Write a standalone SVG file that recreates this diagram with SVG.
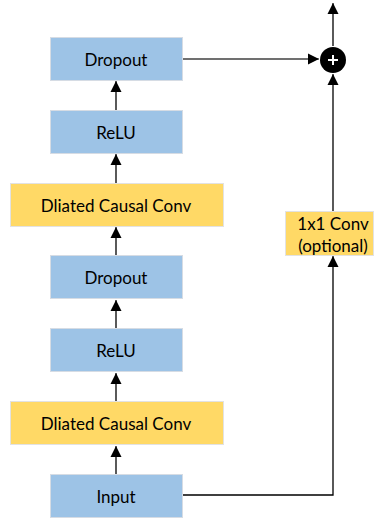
<svg xmlns="http://www.w3.org/2000/svg" width="377" height="519" viewBox="0 0 377 519">
<style>
.b{fill:#9DC3E6;stroke:#D6DCE4;stroke-width:1}
.y{fill:#FFD966;stroke:#E2E2E2;stroke-width:1}
.t{font-family:Lato,"Open Sans",sans-serif;font-size:17px;fill:#000;text-anchor:middle;dominant-baseline:central}
.c{fill:none;stroke:#000;stroke-width:1.3}
</style>
<defs>
<marker id="a" viewBox="0 0 10 12" refX="11" refY="6" markerWidth="10" markerHeight="12" markerUnits="userSpaceOnUse" orient="auto">
<path d="M0,0.5 L11,6 L0,11.5 Z" fill="#000"/>
</marker>
</defs>
<g id="connectors">
<line class="c" x1="116" y1="110" x2="116" y2="81" marker-end="url(#a)"/>
<line class="c" x1="116" y1="183" x2="116" y2="154" marker-end="url(#a)"/>
<line class="c" x1="116" y1="255" x2="116" y2="227" marker-end="url(#a)"/>
<line class="c" x1="116" y1="328" x2="116" y2="300" marker-end="url(#a)"/>
<line class="c" x1="116" y1="401" x2="116" y2="373" marker-end="url(#a)"/>
<line class="c" x1="116" y1="474" x2="116" y2="446" marker-end="url(#a)"/>
<line x1="182" y1="59" x2="319" y2="59" style="fill:none;stroke:#404040;stroke-width:1.5" marker-end="url(#a)"/>
<polyline class="c" points="182,495 333,495 333,256" marker-end="url(#a)"/>
<line class="c" x1="333" y1="211" x2="333" y2="74" marker-end="url(#a)"/>
<line class="c" x1="333" y1="46" x2="333" y2="3" marker-end="url(#a)"/>
</g>
<g id="dropout2"><rect class="b" x="50.5" y="37.5" width="132" height="43"/><text class="t" x="116" y="59">Dropout</text></g>
<g id="relu2"><rect class="b" x="50.5" y="110.5" width="132" height="43"/><text class="t" x="116" y="132">ReLU</text></g>
<g id="conv2"><rect class="y" x="10.5" y="183.5" width="213" height="43"/><text class="t" x="116" y="205">Dliated Causal Conv</text></g>
<g id="dropout1"><rect class="b" x="50.5" y="255.5" width="132" height="43"/><text class="t" x="116" y="277">Dropout</text></g>
<g id="relu1"><rect class="b" x="50.5" y="328.5" width="132" height="43"/><text class="t" x="116" y="350">ReLU</text></g>
<g id="conv1"><rect class="y" x="10.5" y="401.5" width="213" height="43"/><text class="t" x="116" y="423">Dliated Causal Conv</text></g>
<g id="input"><rect class="b" x="50.5" y="474.5" width="132" height="43"/><text class="t" x="116" y="496">Input</text></g>
<g id="conv1x1"><rect class="y" x="285.5" y="211.5" width="88" height="44"/><text class="t" x="333" y="223">1x1 Conv</text><text class="t" x="333" y="245">(optional)</text></g>
<g id="sum"><circle cx="333" cy="60" r="13" fill="#000"/><path d="M328,60 H338 M333,55 V65" stroke="#fff" stroke-width="2"/></g>
</svg>
